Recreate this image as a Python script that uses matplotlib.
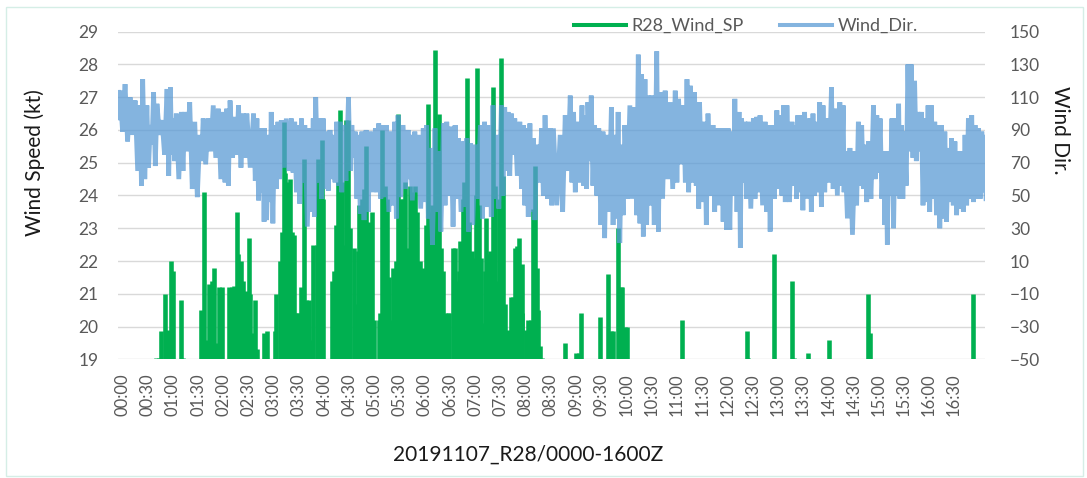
import matplotlib
matplotlib.use('Agg')
import matplotlib.pyplot as plt
from matplotlib.lines import Line2D
from matplotlib.patches import Rectangle

plt.rcParams['font.family'] = ['Lato', 'DejaVu Sans']

# x axis: minutes from 00:00, labels every 30 min
tick_labels = ["00:00", "00:30", "01:00", "01:30", "02:00", "02:30", "03:00", "03:30",
               "04:00", "04:30", "05:00", "05:30", "06:00", "06:30", "07:00", "07:30",
               "08:00", "08:30", "09:00", "09:30", "10:00", "10:30", "11:00", "11:30",
               "12:00", "12:30", "13:00", "13:30", "14:00", "14:30", "15:00", "15:30",
               "16:00", "16:30"]
x_range = (-5.4, 1026.8)

# R28 wind speed (kt): gust readings (minute, kt); the rest of the time it is under 19 kt
sp_t = [40, 43, 46, 50, 54, 58, 60, 70, 72,
        93, 97, 100, 103, 106, 109, 111, 115, 118,
        127, 130, 133, 136, 138, 141, 144, 147, 150, 152, 154, 158, 160,
        169, 172,
        181, 183, 187, 190, 192, 194, 197, 199, 202, 204, 205, 208, 210, 213, 216, 219,
        222, 225, 227, 231, 233, 235, 237, 239,
        249, 252, 254, 257, 259, 261, 263, 266, 269, 271, 275, 278, 280, 282, 285, 288,
        290, 292, 294, 297, 299,
        305, 307, 309, 312, 315, 317, 320, 322, 325, 328, 331, 334,
        336, 339, 342, 345, 348, 351, 354, 355, 358, 361, 364, 366, 369, 370, 372, 374,
        377, 379, 382, 384, 387, 389,
        393, 396, 398, 400, 402, 405, 407, 410, 412, 414, 416, 419, 421, 422, 424, 427,
        429, 431, 433, 435, 438, 441, 443, 445, 448, 450, 453, 455,
        459, 462, 465, 467, 470, 472, 475, 476,
        480, 483, 486, 489, 491, 493, 495, 497, 499, 501,
        523, 527, 529, 540, 543, 546, 548, 568, 570,
        576, 578, 582, 584, 587, 590, 593, 595, 598, 600, 601,
        666, 743, 745, 747, 755, 776, 797, 799, 802, 816, 841, 888, 890, 1013]
sp_v = [19.05, 19.05, 19.85, 21.0, 19.9, 22.0, 21.7, 20.8, 19.05,
        20.5, 24.1, 19.6, 21.3, 21.4, 21.8, 19.5, 21.2, 21.2,
        21.2, 21.2, 21.25, 23.5, 22.2, 22.0, 21.4, 21.1, 22.7, 21.0, 19.8, 20.8, 19.3,
        19.8, 19.85,
        19.85, 21.0, 22.0, 22.9, 26.25, 24.7, 24.4, 24.5, 22.9, 22.8, 20.4, 20.4, 20.4, 21.2, 25.1, 20.8,
        20.8, 19.6, 22.5, 22.5, 25.1, 23.9, 25.7, 23.9,
        21.4, 21.7, 23.1, 24.4, 26.6, 24.4, 22.5, 26.3, 26.3, 23.0, 22.4, 20.7, 22.3, 23.7, 23.9, 24.2,
        25.5, 21.5, 23.2, 23.5, 20.2,
        20.2, 20.4, 26.0, 24.3, 23.9, 21.5, 20.2, 21.8, 22.0, 26.5, 23.9, 23.9,
        24.4, 22.4, 24.3, 24.1, 24.3, 23.5, 22.0, 20.0, 21.8, 23.1, 26.8, 23.5, 23.7, 21.9, 28.45, 25.5,
        26.5, 22.4, 21.7, 20.4, 20.4, 20.4,
        22.4, 22.4, 21.4, 21.7, 22.6, 23.9, 24.4, 27.6, 23.2, 22.2, 22.3, 22.1, 24.0, 27.9, 23.7, 22.1,
        20.1, 21.7, 23.3, 22.2, 22.3, 27.3, 24.3, 21.4, 23.9, 28.2, 24.6, 20.7,
        19.9, 20.9, 20.9, 22.4, 22.45, 22.7, 21.9, 20.4,
        19.9, 20.2, 20.2, 23.6, 24.9, 21.8, 20.5, 19.4, 19.05, 19.0,
        19.0, 19.5, 19.0, 19.2, 19.2, 20.4, 19.0, 20.3, 19.0,
        19.0, 21.6, 19.85, 19.85, 19.0, 23.0, 21.2, 21.2, 20.0, 20.0, 19.0,
        20.2, 19.85, 19.05, 19.0, 19.0, 22.2, 21.4, 19.05, 19.0, 19.2, 19.6, 21.0, 19.8, 21.0]

# Wind direction (deg): local high / low of the minute-to-minute swing
dir_t = [-5, -3, 3, 9, 15, 21, 24, 29, 33, 37, 41, 47, 53, 57, 60, 64, 70, 74, 80, 86, 92,
         96, 102, 108, 114, 120, 124, 128, 134, 138, 144, 148, 156, 160, 164, 168,
         169, 174, 177, 181, 185, 189, 195, 201, 205, 209, 213, 217, 223, 227, 230, 235,
         239, 243, 247, 251, 255, 259, 263, 269, 273, 277, 281, 285, 290, 295, 301, 305,
         310, 314, 320, 324, 328, 334, 340,
         342, 348, 352, 358, 362, 366, 372, 376, 382, 386, 391, 396, 400, 406, 410, 414,
         420, 426, 431, 437, 441, 445, 451, 455, 459, 463, 467, 473, 477, 481, 485, 489,
         493, 499, 503, 509,
         513, 521, 527, 533, 537, 541, 547, 551, 554, 558, 562, 567, 572, 576, 582, 586,
         590, 594, 598, 604, 610, 614, 618, 622, 626, 630, 636, 640, 646, 652, 658, 662,
         668, 672, 676, 681, 685,
         687, 693, 697, 703, 707, 713, 717, 721, 725, 729, 734, 737, 741, 745, 751, 755,
         759, 765, 769, 773, 779, 783, 787, 791, 797, 801, 804, 808, 812, 818, 822, 826,
         830, 834, 838, 844, 848, 854, 858,
         860, 866, 872, 876, 880, 884, 888, 894, 898, 902, 906, 909, 912, 916, 920, 924,
         927, 931, 935, 939, 943, 947, 951, 955, 959, 963, 967, 971, 975, 979, 983, 987,
         991, 995, 999, 1003, 1007, 1011, 1015, 1019, 1023, 1027]
dir_hi = [113, 114, 118, 110, 108, 105, 121, 105, 93, 113, 106, 96, 115, 116, 97, 100, 101, 101, 107, 95, 87,
          97, 97, 105, 103, 101, 103, 108, 98, 105, 100, 100, 100, 97, 91, 90,
          91, 87, 101, 93, 95, 96, 97, 97, 95, 93, 97, 93, 91, 97, 110, 97,
          97, 89, 90, 87, 95, 95, 93, 110, 93, 89, 87, 89, 90, 89, 91, 94,
          93, 93, 89, 95, 99, 93, 90,
          87, 89, 87, 91, 93, 79, 91, 77, 94, 95, 92, 93, 85, 83, 85, 82,
          81, 93, 95, 93, 105, 87, 105, 104, 101, 100, 97, 95, 93, 91, 94, 85,
          81, 91, 99, 91,
          91, 87, 99, 111, 101, 95, 105, 99, 107, 111, 93, 91, 89, 87, 104, 87,
          101, 81, 93, 105, 104, 136, 124, 121, 111, 111, 138, 113, 114, 107, 114, 109,
          105, 121, 117, 113, 107,
          107, 95, 100, 93, 91, 91, 91, 91, 89, 109, 101, 97, 95, 95, 97, 98,
          99, 95, 93, 93, 102, 99, 105, 105, 95, 93, 99, 99, 101, 97, 100, 95,
          107, 105, 97, 116, 103, 107, 105,
          77, 79, 77, 95, 93, 81, 83, 105, 99, 97, 77, 75, 77, 97, 97, 106,
          93, 89, 130, 130, 120, 101, 101, 97, 105, 105, 95, 93, 93, 89, 79, 85,
          83, 77, 77, 87, 97, 99, 93, 91, 89, 87]
dir_lo = [96, 89, 83, 87, 65, 56, 60, 67, 81, 68, 87, 75, 62, 75, 71, 60, 65, 77, 54, 49, 71,
          69, 77, 73, 60, 58, 56, 73, 75, 67, 73, 67, 59, 47, 52, 34,
          35, 46, 33, 54, 60, 67, 65, 64, 52, 45, 58, 31, 40, 37, 58, 48,
          54, 53, 60, 58, 56, 52, 59, 65, 73, 48, 39, 35, 40, 52, 52, 48,
          49, 40, 44, 36, 49, 54, 60,
          47, 52, 42, 46, 36, 20, 40, 28, 44, 50, 31, 48, 40, 43, 28, 32,
          48, 36, 43, 37, 48, 42, 50, 65, 62, 75, 62, 54, 44, 37, 40, 35,
          58, 50, 48, 44,
          44, 40, 65, 58, 52, 58, 56, 54, 71, 56, 50, 32, 24, 40, 32, 36,
          21, 38, 48, 48, 38, 33, 25, 32, 44, 32, 28, 48, 60, 54, 58, 69,
          58, 52, 58, 56, 42,
          46, 32, 50, 40, 44, 34, 29, 29, 50, 40, 18, 58, 48, 42, 48, 52,
          44, 40, 28, 48, 54, 50, 46, 46, 56, 48, 52, 41, 48, 40, 50, 52,
          43, 52, 58, 54, 50, 56, 52,
          36, 26, 44, 56, 54, 46, 48, 60, 64, 48, 32, 20, 50, 30, 50, 48,
          48, 56, 77, 73, 71, 77, 44, 46, 40, 48, 38, 30, 36, 34, 46, 44,
          38, 42, 40, 44, 48, 46, 48, 48, 52, 48]

GREEN = "#00B050"
BLUE = "#5B9BD5"
GRAY = "#595959"

fig = plt.figure(figsize=(10.87, 4.78), dpi=100)
ax = fig.add_axes([118 / 1087, 1 - 359.3 / 478, 867 / 1087, 327.6 / 478])
ax2 = ax.twinx()

# speed gusts, drawn from below the axis floor so they read as spikes from 19 kt
ax.vlines(sp_t, 18.0, sp_v, color=GREEN, lw=3.3, zorder=2)
ax.set_ylim(19, 29)
ax.set_yticks(range(19, 30))
ax.set_xlim(*x_range)
ax.set_xticks([30 * i for i in range(len(tick_labels))])
ax.set_xticklabels(tick_labels, rotation=90)
ax.grid(axis='y', color="#D9D9D9", lw=1.0)
ax.set_axisbelow(True)

# direction zig-zags between its swing highs and lows
line_t, line_v = [], []
for i in range(len(dir_t)):
    nxt = dir_t[i + 1] if i + 1 < len(dir_t) else dir_t[i] + 2
    line_t += [dir_t[i], (dir_t[i] + nxt) / 2]
    line_v += [dir_hi[i], dir_lo[i]]
ax2.plot(line_t, line_v, color=BLUE, lw=3.4, alpha=0.75, solid_joinstyle='miter')
ax2.set_ylim(-50, 150)
ax2.set_yticks(range(-50, 151, 20))

for a in (ax, ax2):
    for s in a.spines.values():
        s.set_visible(False)
    a.tick_params(length=0, colors=GRAY, labelsize=12.5)
ax.tick_params(axis='x', labelsize=12, pad=10)
ax.tick_params(axis='y', pad=14)
ax2.tick_params(axis='y', pad=18)

fig.text(35 / 1087, 1 - 163 / 478, "Wind Speed (kt)", rotation=90, ha='center', va='center',
         fontsize=15, color="#1a1a1a")
fig.text(1060 / 1087, 1 - 130 / 478, "Wind Dir.", rotation=-90, ha='center', va='center',
         fontsize=15, color="#1a1a1a")
fig.text(528 / 1087, 1 - 455 / 478, "20191107_R28/0000-1600Z", ha='center', va='center',
         fontsize=15, color="#1a1a1a")

handles = [Line2D([], [], color=GREEN, lw=2.9), Line2D([], [], color=BLUE, lw=2.9, alpha=0.75)]
fig.legend(handles, ["R28_Wind_SP", "Wind_Dir."], loc='center', ncol=2, frameon=False,
           bbox_to_anchor=(746 / 1087, 1 - 26 / 478), fontsize=13, labelcolor=GRAY,
           handlelength=2.9, handletextpad=0.3, columnspacing=2.0)

fig.add_artist(Rectangle((6 / 1087, 2 / 478), 1077 / 1087, 469 / 478, transform=fig.transFigure,
                         fill=False, edgecolor="#D5EEE6", lw=1.0))

fig.savefig("out.png", dpi=100)
